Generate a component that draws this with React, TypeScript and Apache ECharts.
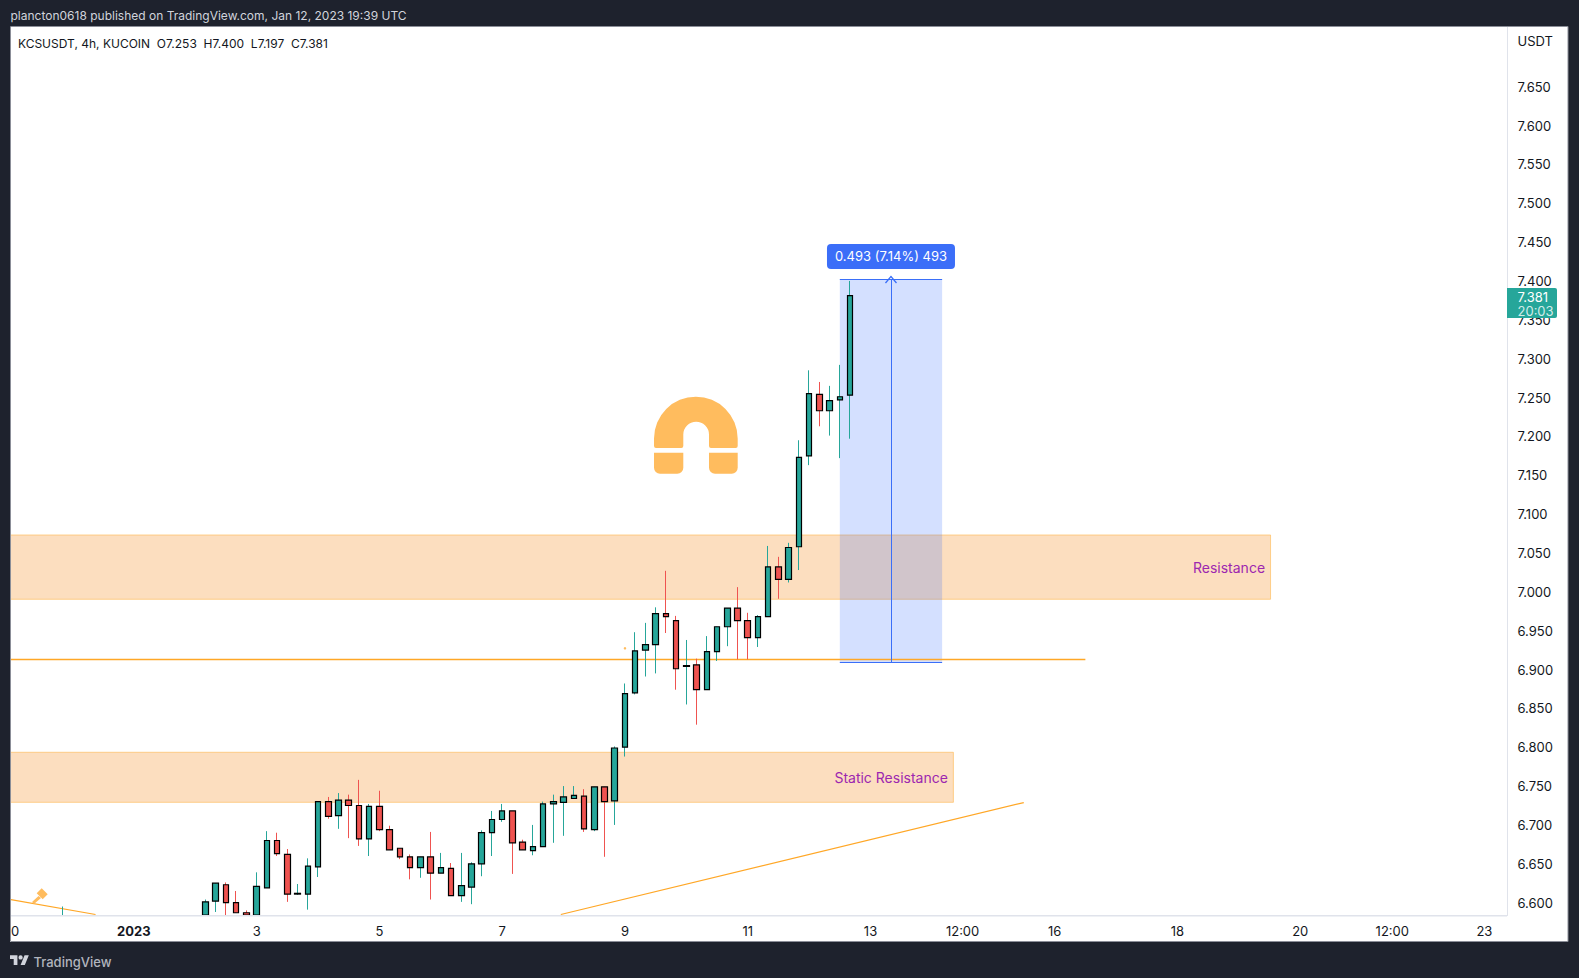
import React, { useEffect, useRef } from "react";
import * as echarts from "echarts";

// bar number counted in 4h bars from Jan 1 2023 00:00
const barIndex = [-7, 7, 8, 9, 10, 11, 12, 13, 14, 15, 16, 17, 18, 19, 20, 21, 22, 23, 24, 25, 26, 27, 28, 29, 30, 31, 32, 33, 34, 35, 36, 37, 38, 39, 40, 41, 42, 43, 44, 45, 46, 47, 48, 49, 50, 51, 52, 53, 54, 55, 56, 57, 58, 59, 60, 61, 62, 63, 64, 65, 66, 67, 68, 69, 70];
const opens = [6.563, 6.553, 6.602, 6.623, 6.6, 6.587, 6.563, 6.619, 6.68, 6.662, 6.611, 6.611, 6.646, 6.73, 6.712, 6.732, 6.725, 6.682, 6.724, 6.694, 6.67, 6.659, 6.645, 6.659, 6.638, 6.644, 6.609, 6.62, 6.65, 6.69, 6.707, 6.718, 6.678, 6.667, 6.672, 6.727, 6.729, 6.734, 6.737, 6.694, 6.749, 6.731, 6.8, 6.87, 6.925, 6.932, 6.972, 6.963, 6.904, 6.906, 6.874, 6.923, 6.955, 6.979, 6.963, 6.941, 6.968, 7.032, 7.016, 7.058, 7.175, 7.254, 7.233, 7.247, 7.253];
const highs = [6.595, 6.604, 6.625, 6.626, 6.615, 6.59, 6.639, 6.692, 6.69, 6.669, 6.624, 6.657, 6.73, 6.736, 6.741, 6.739, 6.758, 6.727, 6.744, 6.699, 6.67, 6.662, 6.659, 6.691, 6.664, 6.651, 6.664, 6.652, 6.693, 6.718, 6.727, 6.718, 6.681, 6.7, 6.73, 6.739, 6.75, 6.75, 6.746, 6.749, 6.749, 6.801, 6.882, 6.948, 6.96, 6.98, 7.027, 6.969, 6.938, 6.914, 6.943, 6.955, 6.979, 7.006, 6.973, 6.97, 7.059, 7.045, 7.063, 7.195, 7.285, 7.27, 7.265, 7.292, 7.4];
const lows = [6.533, 6.543, 6.588, 6.573, 6.587, 6.568, 6.558, 6.619, 6.66, 6.601, 6.61, 6.591, 6.633, 6.708, 6.695, 6.683, 6.673, 6.66, 6.692, 6.668, 6.656, 6.63, 6.632, 6.604, 6.638, 6.609, 6.601, 6.598, 6.634, 6.66, 6.704, 6.637, 6.668, 6.661, 6.672, 6.677, 6.686, 6.734, 6.691, 6.692, 6.659, 6.7, 6.788, 6.868, 6.891, 6.895, 6.947, 6.874, 6.855, 6.829, 6.874, 6.911, 6.93, 6.913, 6.913, 6.929, 6.968, 6.991, 7.012, 7.028, 7.163, 7.213, 7.201, 7.172, 7.197];
const closes = [6.573, 6.601, 6.625, 6.6, 6.587, 6.575, 6.621, 6.68, 6.663, 6.611, 6.612, 6.647, 6.73, 6.711, 6.732, 6.725, 6.682, 6.724, 6.694, 6.668, 6.659, 6.645, 6.659, 6.638, 6.645, 6.609, 6.622, 6.65, 6.69, 6.707, 6.718, 6.677, 6.668, 6.672, 6.727, 6.73, 6.736, 6.738, 6.695, 6.749, 6.73, 6.799, 6.869, 6.924, 6.932, 6.972, 6.968, 6.901, 6.905, 6.874, 6.923, 6.955, 6.979, 6.963, 6.941, 6.968, 7.032, 7.016, 7.057, 7.173, 7.255, 7.233, 7.246, 7.251, 7.381];

const priceTicks = [6.6, 6.65, 6.7, 6.75, 6.8, 6.85, 6.9, 6.95, 7, 7.05, 7.1, 7.15, 7.2, 7.25, 7.3, 7.35, 7.4, 7.45, 7.5, 7.55, 7.6, 7.65];
const timeTicks = [-12, 0, 12, 24, 36, 48, 60, 72, 81, 90, 102, 114, 123, 132];
const timeLabels = ["30", "2023", "3", "5", "7", "9", "11", "13", "12:00", "16", "18", "20", "12:00", "23"];

const xMin = -12.85;
const xMax = 134.26;
const yMin = 6.5841;
const yMax = 7.7268;

const TEAL = "#26a69a";
const RED = "#ef5350";
const ORANGE = "#ffa726";
const BLUE = "#3a6ff8";
const DARK = "#1e222d";
const INK = "#131722";
const FONT = "Inter, 'Noto Sans', sans-serif";

echarts.graphic.registerShape(
  "magnetTop",
  echarts.graphic.extendPath(
    "M654 438.5 A41.85 41.85 0 0 1 737.7 438.5 L737.7 446 Q737.7 448 735.7 448 L711 448 Q709 448 709 446 L709 434.55 A12.85 12.85 0 0 0 683.3 434.55 L683.3 446 Q683.3 448 681.3 448 L656 448 Q654 448 654 446 Z",
    {}
  )
);
echarts.graphic.registerShape(
  "hammer",
  echarts.graphic.extendPath(
    "M36.7 893.3 L41.7 888.3 L47.7 894.3 L42.7 899.3 Z M38.5 896 L32 902 L34 904 L41 898 Z",
    {}
  )
);
echarts.graphic.registerShape(
  "tvLogo",
  echarts.graphic.extendPath(
    "M14 22H7V11H0V4h14v18zM28 22h-8l7.5-18h8L28 22z M24 8a4 4 0 1 1-8 0a4 4 0 1 1 8 0z",
    {}
  )
);

const App = () => {
  const chartRef = useRef<HTMLDivElement>(null);

  useEffect(() => {
    if (!chartRef.current) return;
    const chart = echarts.init(chartRef.current, null, { renderer: "svg" });

    const colorOf = (i: number) => (closes[i] >= opens[i] ? TEAL : RED);
    // candlestick is not cut at the grid edge, so stop it at the axis
    const floor = (v: number) => Math.max(v, yMin);

    const wickData = barIndex.map((b, i) => ({
      value: [b, floor(opens[i]), floor(closes[i]), floor(lows[i]), highs[i]],
      itemStyle: { color: colorOf(i), color0: colorOf(i), borderColor: colorOf(i), borderColor0: colorOf(i) },
    }));
    const bodyData = barIndex
      .map((b, i) => ({
        value: [b, floor(opens[i]), floor(closes[i]), floor(Math.min(opens[i], closes[i])), floor(Math.max(opens[i], closes[i]))],
        itemStyle: { color: colorOf(i), color0: colorOf(i), borderColor: "#000000", borderColor0: "#000000" },
      }))
      .filter((d) => d.value[4] > yMin);

    const zoneStyle = {
      color: "rgba(245,124,0,0.25)",
      borderColor: "rgba(255,183,77,0.6)",
      borderWidth: 1,
    };
    const zoneLabel = {
      show: true,
      position: "insideRight" as const,
      distance: 6,
      color: "#9c27b0",
      fontSize: 14,
      fontFamily: FONT,
    };

    const option: any = {
      animation: false,
      backgroundColor: DARK,
      grid: { left: 0, right: 71.5, top: 27, bottom: 63 },
      xAxis: {
        type: "value",
        min: xMin,
        max: xMax,
        splitLine: { show: false },
        axisTick: { show: false },
        axisLine: { onZero: false, lineStyle: { color: "#e0e3eb", width: 1 } },
        axisLabel: {
          customValues: timeTicks,
          margin: 9,
          color: INK,
          fontSize: 13,
          fontFamily: FONT,
          formatter: (v: number) => {
            const name = timeLabels[timeTicks.indexOf(v)];
            return name === "2023" ? "{y|2023}" : name;
          },
          rich: { y: { fontWeight: 700, fontSize: 13, color: INK, fontFamily: FONT } },
        },
      },
      yAxis: {
        type: "value",
        position: "right",
        min: yMin,
        max: yMax,
        splitLine: { show: false },
        axisTick: { show: false },
        axisLine: { show: true, onZero: false, lineStyle: { color: "#e0e3eb", width: 1 } },
        axisLabel: {
          customValues: priceTicks,
          margin: 10,
          color: INK,
          fontSize: 13,
          fontFamily: FONT,
          formatter: (v: number) => v.toFixed(3),
        },
      },
      series: [
        {
          name: "wicks",
          type: "candlestick",
          barWidth: 0,
          z: 3,
          itemStyle: { borderWidth: 1 },
          data: wickData,
          markArea: {
            silent: true,
            z: 1,
            data: [
              [
                { coord: [xMin, 7.0731], itemStyle: zoneStyle, name: "Resistance", label: zoneLabel },
                { coord: [111.1, 6.9904] },
              ],
              [
                { coord: [xMin, 6.7935], itemStyle: zoneStyle, name: "Static Resistance", label: zoneLabel },
                { coord: [80.1, 6.7291] },
              ],
              [
                { coord: [69, 7.402], itemStyle: { color: "rgba(41,98,255,0.2)" } },
                { coord: [79, 6.909] },
              ],
            ],
          },
          markLine: {
            silent: true,
            z: 2,
            symbol: "none",
            label: { show: false },
            data: [
              [
                { coord: [xMin, 6.9132], lineStyle: { color: ORANGE, width: 1.3, type: "solid" } },
                { coord: [93, 6.9132] },
              ],
              [
                { coord: [41.73, 6.5847], lineStyle: { color: ORANGE, width: 1.2, type: "solid" } },
                { coord: [86.98, 6.7288] },
              ],
              [
                { coord: [-12.85, 6.6058], lineStyle: { color: ORANGE, width: 1.2, type: "solid" } },
                { coord: [-3.75, 6.5847] },
              ],
              [
                { coord: [69, 7.402], lineStyle: { color: BLUE, width: 1, type: "solid" } },
                { coord: [79, 7.402] },
              ],
              [
                { coord: [69, 6.909], lineStyle: { color: BLUE, width: 1, type: "solid" } },
                { coord: [79, 6.909] },
              ],
              [
                { coord: [74, 6.909], lineStyle: { color: BLUE, width: 1, type: "solid" } },
                {
                  coord: [74, 7.402],
                  symbol: "path://M6 0 L12 7 L11 8 L6 2 L1 8 L0 7 Z",
                  symbolSize: [12, 8],
                },
              ],
            ],
          },
          markPoint: {
            silent: true,
            data: [
              {
                coord: [74, 7.402],
                symbol: "path://M4 0H124Q128 0 128 4V21Q128 25 124 25H4Q0 25 0 21V4Q0 0 4 0Z",
                symbolSize: [128, 25],
                symbolOffset: [0, -23],
                itemStyle: { color: "#3b6ef8" },
                label: {
                  show: true,
                  position: "inside",
                  formatter: "0.493 (7.14%) 493",
                  color: "#ffffff",
                  fontSize: 13,
                  fontFamily: FONT,
                },
              },
              {
                coord: [48, 6.9273],
                symbol: "circle",
                symbolSize: 2.5,
                itemStyle: { color: "#ffbc5e" },
                label: { show: false },
              },
            ],
          },
        },
        {
          name: "bodies",
          type: "candlestick",
          barWidth: 6,
          z: 4,
          itemStyle: { borderWidth: 1.2 },
          data: bodyData,
        },
      ],
      graphic: [
        {
          type: "group",
          children: [
            // white sheet under the plot
            { type: "rect", z: -1, shape: { x: 10, y: 27, width: 1558, height: 915 }, style: { fill: "#ffffff" } },
            // time axis drawn again over the cut bodies
            { type: "rect", z: 30, shape: { x: 10, y: 915, width: 1497, height: 1.5 }, style: { fill: "#e0e3eb" } },
            // frame over the plot, cuts the clipped "30" label
            { type: "rect", z: 100, shape: { x: 0, y: 0, width: 10, height: 978 }, style: { fill: DARK } },
            { type: "rect", z: 101, shape: { x: 10.5, y: 26.5, width: 1557.5, height: 915 }, style: { fill: "none", stroke: "#8b8e98", lineWidth: 1 } },
            // price scale head
            { type: "text", z: 51, style: { x: 1517.5, y: 41, text: "USDT", fill: INK, font: `13px ${FONT}`, textVerticalAlign: "middle" } },
            // last price tag
            { type: "rect", z: 60, shape: { x: 1507, y: 288, width: 50, height: 30, r: [0, 2, 2, 0] }, style: { fill: TEAL } },
            { type: "text", z: 61, style: { x: 1517.5, y: 296.5, text: "7.381", fill: "#ffffff", font: `13px ${FONT}`, textVerticalAlign: "middle" } },
            { type: "text", z: 61, style: { x: 1517.5, y: 310.5, text: "20:03", fill: "rgba(255,255,255,0.8)", font: `13px ${FONT}`, textVerticalAlign: "middle" } },
            // header and legend
            { type: "text", z: 102, style: { x: 10.5, y: 15, text: "plancton0618 published on TradingView.com, Jan 12, 2023 19:39 UTC", fill: "#d1d4dc", font: `12px ${FONT}`, textVerticalAlign: "middle" } },
            { type: "text", z: 50, style: { x: 18, y: 43, text: "KCSUSDT, 4h, KUCOIN  O7.253  H7.400  L7.197  C7.381", fill: INK, font: `12px ${FONT}`, textVerticalAlign: "middle" } },
            // drawings
            { type: "magnetTop", z: 20, style: { fill: "#ffbc5e" } },
            { type: "rect", z: 20, shape: { x: 654, y: 452.7, width: 29.3, height: 21, r: [0, 0, 6, 6] }, style: { fill: "#ffbc5e" } },
            { type: "rect", z: 20, shape: { x: 709, y: 452.7, width: 28.7, height: 21, r: [0, 0, 6, 6] }, style: { fill: "#ffbc5e" } },
            { type: "hammer", z: 20, style: { fill: "#ffbc5e" } },
            // footer
            { type: "tvLogo", z: 102, x: 10, y: 953, scaleX: 0.53, scaleY: 0.55, style: { fill: "#d1d4dc" } },
            { type: "text", z: 102, style: { x: 33.5, y: 962, text: "TradingView", fill: "#b2b5be", font: `500 13px ${FONT}`, textVerticalAlign: "middle" } },
          ],
        },
      ],
    };

    chart.setOption(option);
    return () => {
      chart.dispose();
    };
  }, []);

  return <div ref={chartRef} style={{ position: "absolute", left: 0, top: 0, width: 1579, height: 978 }} />;
};

export default App;
